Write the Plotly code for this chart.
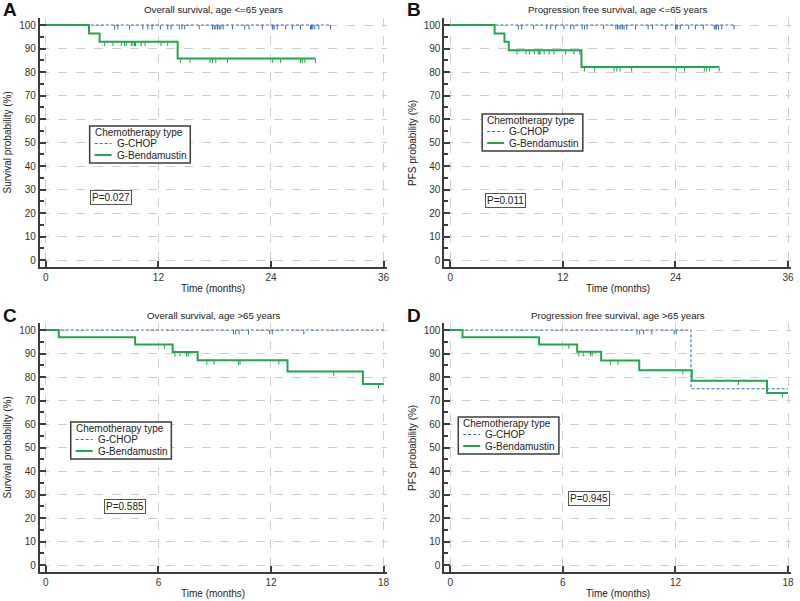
import plotly.graph_objects as go

W, H = 800, 601

# ---------------- data ----------------
# Panel A: Overall survival, age <=65
A_chop_t = []
A_chop_s = []
A_chop_end = 30.34
A_chop_cens = [7.33, 7.68, 8.92, 10.34, 10.87, 11.33, 12.21, 12.99, 13.35, 14.23, 14.51, 14.80,
               16.35, 17.77, 17.95, 18.12, 18.30, 18.48, 18.65, 18.90, 19.89, 21.20, 21.66, 23.08,
               24.14, 24.21, 24.35, 24.67, 25.56, 26.27, 27.15, 28.21, 28.32, 28.46, 28.67, 29.10, 30.34]
A_bend_t = [4.60, 5.73, 14.05]
A_bend_s = [96.4, 92.9, 85.7]
A_bend_end = 28.74
A_bend_cens = [6.27, 7.15, 8.04, 8.39, 8.57, 9.10, 9.27, 9.45, 9.56, 10.16, 10.58, 12.28, 12.99,
               14.34, 15.36, 17.49, 17.77, 18.12, 19.36, 24.14, 25.03, 27.15, 27.33, 27.61, 28.74]

# Panel B: Progression free survival, age <=65
B_chop_t = []
B_chop_s = []
B_chop_end = 30.25
B_chop_cens = [7.25, 7.61, 8.87, 10.28, 10.70, 11.23, 12.11, 12.82, 13.17, 14.05, 14.30, 14.58,
               16.34, 17.64, 17.82, 17.99, 18.17, 18.35, 18.52, 18.80, 19.75, 21.09, 21.55, 22.96,
               24.01, 24.08, 24.19, 24.51, 25.42, 26.13, 26.97, 28.13, 28.24, 28.38, 28.59, 28.94, 30.25]
B_bend_t = [4.72, 5.77, 6.23, 13.98]
B_bend_s = [96.4, 92.9, 89.3, 82.1]
B_bend_end = 28.66
B_bend_cens = [7.11, 8.06, 8.42, 8.94, 9.37, 9.47, 9.58, 10.00, 10.53, 11.06, 12.29, 13.17, 13.80,
               14.30, 15.39, 17.46, 17.75, 18.10, 19.33, 24.08, 24.96, 27.08, 27.32, 27.61, 28.66]

# Panel C: Overall survival, age >65
C_chop_t = []
C_chop_s = []
C_chop_end = 18.0
C_chop_cens = [10.00, 10.12, 10.30, 10.80, 11.93, 12.07, 13.75]
C_bend_t = [0.69, 4.76, 6.76, 8.09, 12.88, 16.90]
C_bend_s = [96.9, 93.8, 90.6, 87.1, 82.3, 77.0]
C_bend_end = 18.0
C_bend_cens = [6.32, 6.88, 7.15, 7.50, 7.59, 8.58, 8.97, 10.27, 10.35, 12.42, 15.35, 17.73]

# Panel D: Progression free survival, age >65
D_chop_t = [12.83]
D_chop_s = [75.0]
D_chop_end = 18.0
D_chop_cens = [9.95, 10.09, 10.30, 10.74, 11.93, 12.04]
D_bend_t = [0.65, 4.73, 6.76, 8.04, 10.07, 12.87, 16.88]
D_bend_s = [96.9, 93.8, 90.7, 87.0, 82.9, 78.4, 73.2]
D_bend_end = 18.0
D_bend_cens = [6.32, 6.85, 7.08, 7.47, 7.56, 8.53, 8.94, 12.39, 15.35, 17.70]

titles = ["Overall survival, age <=65 years", "Progression free survival, age <=65 years",
          "Overall survival, age >65 years", "Progression free survival, age >65 years"]
letters = ["A", "B", "C", "D"]
ytitles = ["Survival probability (%)", "PFS probability (%)",
           "Survival probability (%)", "PFS probability (%)"]
pvalues = ["P=0.027", "P=0.011", "P=0.585", "P=0.945"]
series_names = ["G-CHOP", "G-Bendamustin"]
legend_title = "Chemotherapy type"
xticks_top = [0, 12, 24, 36]
xticks_bottom = [0, 6, 12, 18]
yticks = list(range(0, 101, 10))

# ---------------- styling ----------------
BLUE = "#3a6db3"
GREEN = "#22a54c"
AX = "#3c3c3c"
FONT = "Liberation Sans, Arial, sans-serif"
BLUE_DASH = "3px,2px"

fig = go.Figure()


def surv_at(t, ev_t, ev_s):
    s = 100.0
    for et, es in zip(ev_t, ev_s):
        if t >= et:
            s = es
    return s


def add_curve(idx, ev_t, ev_s, end, cens, color, dash, width, name):
    xa = "x" if idx == 0 else f"x{idx+1}"
    ya = "y" if idx == 0 else f"y{idx+1}"
    xs = [0] + list(ev_t) + [end]
    ys = [100] + list(ev_s) + [ev_s[-1] if ev_s else 100]
    fig.add_trace(go.Scatter(x=xs, y=ys, mode="lines", line=dict(color=color, width=width, dash=dash, shape="hv"),
                             name=name, xaxis=xa, yaxis=ya, showlegend=False))
    cx, cy = [], []
    for t in cens:
        s = surv_at(t, ev_t, ev_s)
        cx += [t, t, None]
        cy += [s, s - 1.9, None]
    fig.add_trace(go.Scatter(x=cx, y=cy, mode="lines", line=dict(color=color, width=1),
                             xaxis=xa, yaxis=ya, showlegend=False, hoverinfo="skip"))


panels = [
    (A_chop_t, A_chop_s, A_chop_end, A_chop_cens, A_bend_t, A_bend_s, A_bend_end, A_bend_cens),
    (B_chop_t, B_chop_s, B_chop_end, B_chop_cens, B_bend_t, B_bend_s, B_bend_end, B_bend_cens),
    (C_chop_t, C_chop_s, C_chop_end, C_chop_cens, C_bend_t, C_bend_s, C_bend_end, C_bend_cens),
    (D_chop_t, D_chop_s, D_chop_end, D_chop_cens, D_bend_t, D_bend_s, D_bend_end, D_bend_cens),
]
for i, p in enumerate(panels):
    add_curve(i, p[0], p[1], p[2], p[3], BLUE, BLUE_DASH, 1.1, series_names[0])
    add_curve(i, p[4], p[5], p[6], p[7], GREEN, "solid", 2, series_names[1])

# pixel layout of each panel (left, right, top, bottom of axis lines)
boxes = [(40, 388, 18, 267), (446, 794, 18, 267), (40, 388, 323, 572), (446, 794, 323, 572)]
xranges = [[-0.64, 36.32], [-0.64, 36.32], [-0.32, 18.16], [-0.32, 18.16]]
yrange = [-2.98, 102.98]
legend_pos = [(90, 126), (484, 114), (71, 422), (460, 417)]
p_pos = [(111, 198), (507, 201), (125, 506), (591, 498)]


def px(x):
    return x / W


def py(y):
    return 1 - y / H


layout = dict(width=W, height=H, margin=dict(l=0, r=0, t=0, b=0),
              paper_bgcolor="white", plot_bgcolor="white", showlegend=False,
              font=dict(family=FONT, size=10, color="#222"))
annotations = []
shapes = []
for i in range(4):
    l, r, t, b = boxes[i]
    sfx = "" if i == 0 else str(i + 1)
    xt = xticks_top if i < 2 else xticks_bottom
    common = dict(showline=True, linecolor=AX, linewidth=2, ticks="inside", ticklen=6, tickwidth=2,
                  tickcolor=AX, showgrid=True, gridcolor="#cfcfcf", griddash="dash", gridwidth=1,
                  zeroline=False, tickfont=dict(size=10, color="#333", family=FONT))
    layout["xaxis" + sfx] = dict(domain=[px(l), px(r)], range=xranges[i], tickvals=xt,
                                 anchor="y" + sfx, **common)
    layout["yaxis" + sfx] = dict(domain=[py(b), py(t)], range=yrange, tickvals=yticks,
                                 anchor="x" + sfx,
                                 minor=dict(dtick=5, ticks="inside", ticklen=4, tickwidth=1.5, tickcolor=AX,
                                            showgrid=False),
                                 **common)
    cx = (l + r) / 2
    # panel title
    annotations.append(dict(text=titles[i], x=px(cx), y=py(t - 8), xref="paper", yref="paper",
                            showarrow=False, xanchor="center", yanchor="middle",
                            font=dict(size=9.7, color="#222")))
    # panel letter
    annotations.append(dict(text="<b>" + letters[i] + "</b>", x=px(l - 39), y=py(t - 8),
                            xref="paper", yref="paper", showarrow=False, xanchor="left",
                            yanchor="middle", font=dict(size=19, color="#111")))
    # x title
    annotations.append(dict(text="Time (months)", x=px(cx), y=py(b + 21), xref="paper",
                            yref="paper", showarrow=False, xanchor="center", yanchor="middle",
                            font=dict(size=10, color="#222")))
    # y title
    annotations.append(dict(text=ytitles[i], x=px(l - 32), y=py((t + b) / 2), xref="paper",
                            yref="paper", showarrow=False, textangle=-90, xanchor="center",
                            yanchor="middle", font=dict(size=10, color="#222")))
    # p value box
    ppx, ppy = p_pos[i]
    annotations.append(dict(text=pvalues[i], x=px(ppx), y=py(ppy), xref="paper", yref="paper",
                            showarrow=False, xanchor="center", yanchor="middle",
                            bordercolor="#555", borderwidth=1, borderpad=1, bgcolor="white",
                            font=dict(size=10, color="#222")))
    # compact legend box
    lx, ly = legend_pos[i]
    shapes.append(dict(type="rect", xref="paper", yref="paper", x0=px(lx), x1=px(lx + 101),
                       y0=py(ly), y1=py(ly + 37), line=dict(color=AX, width=1.5), fillcolor="white",
                       layer="above"))
    annotations.append(dict(text=legend_title, x=px(lx + 3), y=py(ly + 6.5), xref="paper", yref="paper",
                            showarrow=False, xanchor="left", yanchor="middle",
                            font=dict(size=10, color="#222")))
    rows = [(series_names[0], BLUE, BLUE_DASH, 1.1, ly + 17.5), (series_names[1], GREEN, "solid", 2, ly + 29)]
    for name, col, dsh, wd, yy in rows:
        shapes.append(dict(type="line", xref="paper", yref="paper", x0=px(lx + 5), x1=px(lx + 22),
                           y0=py(yy), y1=py(yy), line=dict(color=col, width=wd, dash=dsh), layer="above"))
        annotations.append(dict(text=name, x=px(lx + 25), y=py(yy), xref="paper", yref="paper",
                                showarrow=False, xanchor="left", yanchor="middle",
                                font=dict(size=10, color="#222")))

layout["annotations"] = annotations
layout["shapes"] = shapes
fig.update_layout(**layout)
fig.write_html("out.html", config={"displayModeBar": False},
               post_script="document.body.style.margin='0px';")
